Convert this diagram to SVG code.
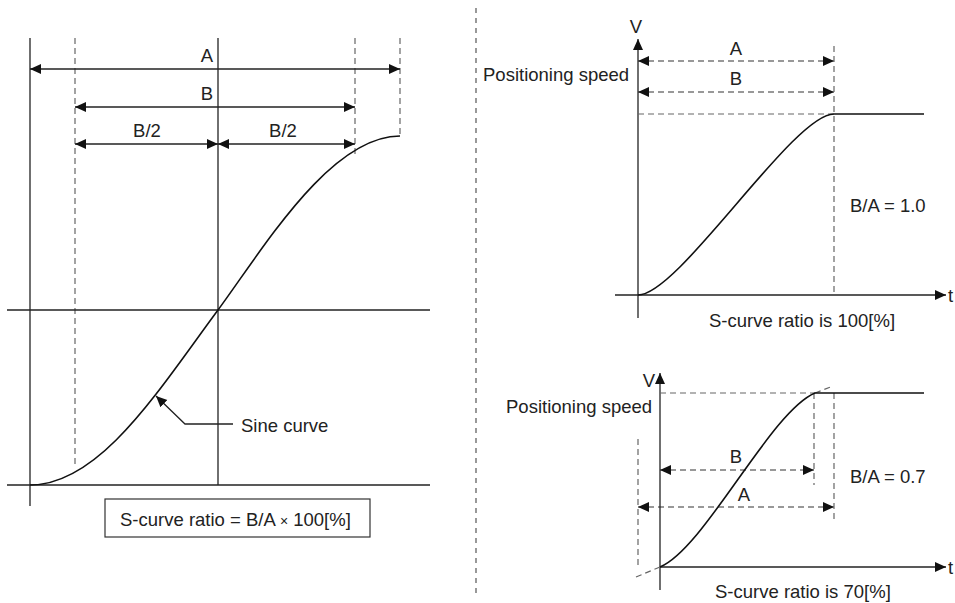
<svg xmlns="http://www.w3.org/2000/svg" width="955" height="603" viewBox="0 0 955 603">
<style>
  .s{stroke:#222;stroke-width:1.3;fill:none}
  .d{stroke:#666;stroke-width:1.2;fill:none;stroke-dasharray:6 4}
  .da{stroke:#333;stroke-width:1.2;fill:none;stroke-dasharray:6 4}
  .c{stroke:#111;stroke-width:1.6;fill:none}
  text{font-family:"Liberation Sans",Arial,sans-serif;font-size:18.5px;fill:#222}
  .m{text-anchor:middle}
</style>
<defs>
  <marker id="ah" markerUnits="userSpaceOnUse" markerWidth="12" markerHeight="11" refX="11" refY="5" orient="auto-start-reverse">
    <path d="M0,0 L11,5 L0,10 z" fill="#111"/>
  </marker>
</defs>
<rect width="955" height="603" fill="#fff"/>

<g id="left-panel">
  <line class="s" x1="30" y1="38" x2="30" y2="506"/>
  <line class="s" x1="218" y1="38" x2="218" y2="485"/>
  <line class="d" x1="75" y1="38" x2="75" y2="465"/>
  <line class="d" x1="355" y1="38" x2="355" y2="155"/>
  <line class="d" x1="400" y1="38" x2="400" y2="136"/>
  <line class="s" x1="7" y1="310" x2="430" y2="310"/>
  <line class="s" x1="7" y1="485" x2="430" y2="485"/>
  <path id="sine" class="c" d="M30,485 C100,485 158,391 218,310 C263,249 330,136 400,136"/>
</g>

<g id="connectors">
  <line class="s" x1="30" y1="69" x2="400" y2="69" marker-start="url(#ah)" marker-end="url(#ah)"/>
  <line class="s" x1="75" y1="107" x2="355" y2="107" marker-start="url(#ah)" marker-end="url(#ah)"/>
  <line class="s" x1="75" y1="144" x2="218" y2="144" marker-start="url(#ah)" marker-end="url(#ah)"/>
  <line class="s" x1="218" y1="144" x2="355" y2="144" marker-start="url(#ah)" marker-end="url(#ah)"/>
  <polyline class="s" points="233,424 185,424 156,396" marker-end="url(#ah)"/>
  <line class="da" x1="638" y1="61" x2="834" y2="61" marker-start="url(#ah)" marker-end="url(#ah)"/>
  <line class="da" x1="638" y1="92" x2="834" y2="92" marker-start="url(#ah)" marker-end="url(#ah)"/>
  <line class="da" x1="660" y1="470" x2="814" y2="470" marker-start="url(#ah)" marker-end="url(#ah)"/>
  <line class="da" x1="638" y1="507" x2="834" y2="507" marker-start="url(#ah)" marker-end="url(#ah)"/>
</g>

<g id="labels-left">
  <text class="m" x="207" y="62">A</text>
  <text class="m" x="207" y="100">B</text>
  <text class="m" x="147" y="137">B/2</text>
  <text class="m" x="283" y="137">B/2</text>
  <text x="241" y="432">Sine curve</text>
</g>

<g id="formula-box">
  <rect x="105" y="499" width="265" height="38" fill="none" stroke="#333" stroke-width="1.2"/>
  <text x="120" y="526">S-curve ratio = B/A <tspan font-size="14">×</tspan> 100[%]</text>
</g>

<line id="divider" x1="476" y1="8" x2="476" y2="595" stroke="#555" stroke-width="1.2" stroke-dasharray="5 5"/>

<g id="chart-top">
  <line class="s" x1="638" y1="318" x2="638" y2="39" marker-end="url(#ah)"/>
  <line class="s" x1="615" y1="295" x2="946" y2="295" marker-end="url(#ah)"/>
  <line class="d" x1="638" y1="114" x2="834" y2="114"/>
  <line class="d" x1="834" y1="46" x2="834" y2="295"/>
  <path class="c" d="M638,295 C679,295 793,114 834,114 L924,114"/>
  <text class="m" x="636" y="33">V</text>
  <text x="948" y="302">t</text>
  <text class="m" x="736" y="55">A</text>
  <text class="m" x="736" y="85">B</text>
  <text x="483" y="81">Positioning speed</text>
  <text x="850" y="212">B/A = 1.0</text>
  <text x="709" y="327">S-curve ratio is 100[%]</text>
</g>

<g id="chart-bottom">
  <line class="s" x1="660" y1="590" x2="660" y2="373" marker-end="url(#ah)"/>
  <line class="s" x1="660" y1="567" x2="946" y2="567" marker-end="url(#ah)"/>
  <line class="d" x1="660" y1="393" x2="815" y2="393"/>
  <line class="d" x1="814" y1="393" x2="814" y2="485"/>
  <line class="d" x1="834" y1="393" x2="834" y2="523"/>
  <line class="d" x1="638" y1="439" x2="638" y2="567"/>
  <line class="d" x1="636" y1="577" x2="660" y2="567"/>
  <line class="d" x1="815" y1="393" x2="833" y2="386"/>
  <path class="c" d="M660,567 C705,548 770,412 815,393 L924,393"/>
  <text class="m" x="649" y="387">V</text>
  <text x="948" y="574">t</text>
  <text class="m" x="736" y="463">B</text>
  <text class="m" x="744" y="501">A</text>
  <text x="506" y="413">Positioning speed</text>
  <text x="850" y="483">B/A = 0.7</text>
  <text x="715" y="598">S-curve ratio is 70[%]</text>
</g>
</svg>
